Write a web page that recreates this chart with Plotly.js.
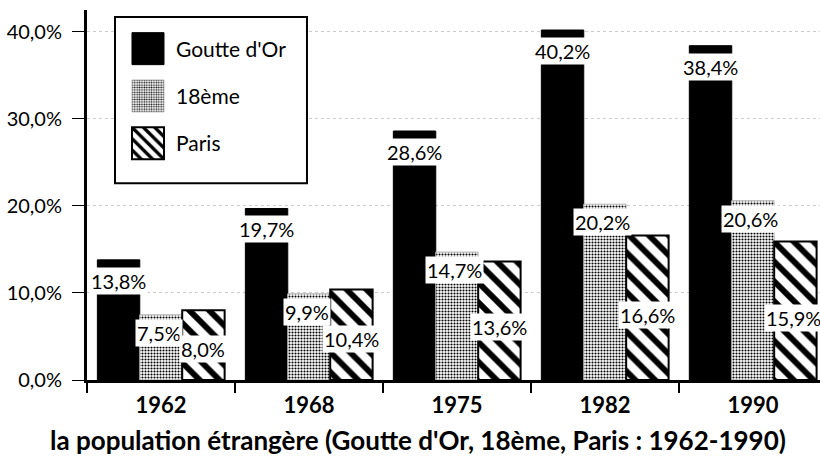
<!DOCTYPE html>
<html>
<head>
<meta charset="utf-8">
<script src="https://cdn.plot.ly/plotly-3.0.1.min.js"></script>
<style>html,body{margin:0;padding:0;background:#fff;}#chart{width:820px;height:457px;}</style>
</head>
<body>
<div id="chart"></div>
<script>
const years = ['1962', '1968', '1975', '1982', '1990'];
const goutteDOr = [13.8, 19.7, 28.6, 40.2, 38.4];
const dixHuitieme = [7.5, 9.9, 14.7, 20.2, 20.6];
const paris = [8.0, 10.4, 13.6, 16.6, 15.9];
const seriesNames = ["Goutte d'Or", '18ème', 'Paris'];
const yTickVals = [0, 10, 20, 30, 40];
const yTickText = ['0,0%', '10,0%', '20,0%', '30,0%', '40,0%'];
const titleText = "la population étrangère (Goutte d'Or, 18ème, Paris : 1962-1990)";

const FONT = 'Lato, "Open Sans", sans-serif';
const fmt = v => v.toFixed(1).replace('.', ',') + '%';

const traces = [
  {type: 'bar', name: seriesNames[0], x: years, y: goutteDOr, legendgroup: 'a',
   marker: {color: '#000', line: {color: '#000', width: 1}}},
  {type: 'bar', name: seriesNames[1], x: years, y: dixHuitieme, legendgroup: 'b',
   marker: {color: '#fff', line: {color: '#bbb', width: 1},
            pattern: {shape: '.', fgcolor: '#000', bgcolor: '#fff', size: 3, solidity: 0.4}}},
  {type: 'bar', name: seriesNames[2], x: years, y: paris, legendgroup: 'c',
   marker: {color: '#fff', line: {color: '#000', width: 2},
            pattern: {shape: '\\', fgcolor: '#000', bgcolor: '#fff', size: 14, solidity: 0.42}}}
];

const barGap = 0.14;
const bw = (1 - barGap) / 3;
const annotations = [];
const lastIdx = years.length - 1;
years.forEach((yr, i) => {
  annotations.push({x: i - bw, y: goutteDOr[i], xref: 'x', yref: 'y', text: fmt(goutteDOr[i]),
    showarrow: false, yanchor: 'top', yshift: -7, bgcolor: '#fff', borderpad: 1,
    font: {family: FONT, size: 20, color: '#000'}});
  annotations.push({x: i, y: dixHuitieme[i], xref: 'x', yref: 'y', text: fmt(dixHuitieme[i]),
    showarrow: false, yanchor: 'top', yshift: -4, xshift: -2, bgcolor: '#fff', borderpad: 1,
    font: {family: FONT, size: 20, color: '#000'}});
  const isLast = i === lastIdx;
  annotations.push({x: isLast ? i + 1.5 * bw : i + bw, y: paris[i] * 0.45, xref: 'x', yref: 'y', text: fmt(paris[i]),
    showarrow: false, yanchor: 'middle', xanchor: isLast ? 'right' : 'center', xshift: isLast ? 6 : 0,
    bgcolor: '#fff', borderpad: 1,
    font: {family: FONT, size: 20, color: '#000'}});
});
annotations.push({x: 0.4516, y: -0.162, xref: 'paper', yref: 'paper', text: '<b>' + titleText + '</b>',
  showarrow: false, xanchor: 'center', yanchor: 'middle',
  font: {family: FONT, size: 26, color: '#000'}});

const layout = {
  width: 820, height: 457,
  margin: {l: 87, r: 0, t: 10, b: 77},
  paper_bgcolor: '#fff', plot_bgcolor: '#fff',
  barmode: 'group', bargap: barGap, bargroupgap: 0,
  font: {family: FONT, color: '#000'},
  showlegend: true,
  legend: {x: 0.045, y: 0.95, xanchor: 'left', yanchor: 'top', bgcolor: 'rgba(0,0,0,0)',
           borderwidth: 0, font: {family: FONT, size: 21, color: '#000'},
           itemwidth: 46, tracegroupgap: 17, traceorder: 'grouped'},
  xaxis: {type: 'category', range: [-0.5, 4.453], showline: true, linewidth: 3, linecolor: '#000',
          ticks: 'outside', tickson: 'boundaries', ticklen: 10, tickwidth: 2, tickcolor: '#000',
          ticklabelstandoff: 4,
          tickfont: {family: FONT, size: 22, color: '#000', weight: 'bold'}, showgrid: false},
  yaxis: {range: [0, 42.5], showline: true, linewidth: 3, linecolor: '#000',
          tickvals: yTickVals, ticktext: yTickText, ticks: 'outside', ticklen: 12, tickwidth: 1,
          tickcolor: '#000', ticklabelstandoff: 6,
          tickfont: {family: FONT, size: 20, color: '#000'},
          showgrid: true, gridcolor: '#ccc', griddash: 'dot', gridwidth: 1, zeroline: false},
  shapes: [{type: 'rect', xref: 'paper', yref: 'paper', x0: 0.0382, x1: 0.3001, y0: 0.532, y1: 0.981,
            line: {color: '#000', width: 2}, fillcolor: '#fff', layer: 'above'}],
  annotations: annotations
};

Plotly.newPlot('chart', traces, layout, {staticPlot: true}).then(gd => {
  gd.querySelectorAll('.legend .legendpoints path').forEach(p => {
    p.setAttribute('d', 'M16,16H-16V-16H16Z');
  });
});
</script>
</body>
</html>
